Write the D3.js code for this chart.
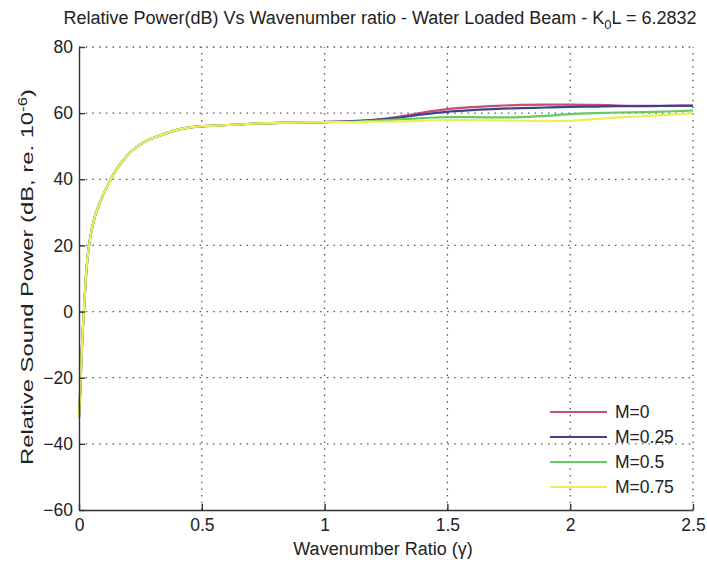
<!DOCTYPE html>
<html>
<head>
<meta charset="utf-8">
<script src="https://cdn.jsdelivr.net/npm/d3@7"></script>
<style>
  body { margin: 0; background: #fff; }
  svg { display: block; font-family: "Liberation Sans", Arial, sans-serif; }
  .grid line { stroke: #555; stroke-width: 1.3; stroke-dasharray: 1.5,5.2; }
  .axis path, .axis line { stroke: #333; stroke-width: 1.4; }
  .axis text { font-size: 17.5px; fill: #222; }
</style>
</head>
<body>
<svg id="chart" width="707" height="562"></svg>
<script>
// shared part of every curve (all Mach numbers agree below ratio 1)
const gammaLow = [0, 0.004, 0.008, 0.013, 0.02, 0.026, 0.033, 0.045, 0.06, 0.08, 0.098, 0.126, 0.16, 0.2, 0.26, 0.34, 0.42, 0.49, 0.56, 0.7, 0.85, 1.0];
const powerLow = [-32, -26, -18, -9, 0, 8, 15, 22, 27.5, 32, 35.2, 39.5, 43.8, 47.5, 51, 53.5, 55.3, 56, 56.2, 56.8, 57.1, 57.3];

// part above ratio 1, one list per Mach number
const gammaHigh = [1.1, 1.2, 1.3, 1.4, 1.5, 1.6, 1.7, 1.8, 1.9, 2.0, 2.1, 2.2, 2.3, 2.4, 2.5];
const powerM0   = [57.6, 58.0, 58.9, 60.2, 61.2, 61.8, 62.2, 62.5, 62.6, 62.6, 62.5, 62.3, 62.2, 62.2, 62.2];
const powerM025 = [57.5, 57.9, 58.6, 59.6, 60.4, 60.9, 61.3, 61.5, 61.7, 61.9, 62.0, 62.1, 62.1, 62.2, 62.3];
const powerM05  = [57.4, 57.7, 58.1, 58.5, 58.8, 58.8, 58.7, 58.8, 59.2, 59.7, 60.0, 60.2, 60.3, 60.5, 60.8];
const powerM075 = [57.3, 57.4, 57.5, 57.7, 57.9, 57.9, 57.8, 57.7, 57.6, 57.7, 58.2, 58.7, 59.1, 59.5, 60.0];

const seriesNames = ["M=0", "M=0.25", "M=0.5", "M=0.75"];
const seriesColors = ["#c4506e", "#404090", "#62cc62", "#eeee58"];

const xTicks = [0, 0.5, 1, 1.5, 2, 2.5];
const yTicks = [-60, -40, -20, 0, 20, 40, 60, 80];

let svg = d3.select("#chart");
let plotLeft = 79, plotRight = 693, plotTop = 47, plotBottom = 510;

let x = d3.scaleLinear().domain([0, 2.5]).range([plotLeft, plotRight]);
let y = d3.scaleLinear().domain([-60, 80]).range([plotBottom, plotTop]);

// grid
let grid = svg.append("g").attr("class", "grid");
grid.selectAll("line.v").data(xTicks.slice(1)).enter().append("line")
    .attr("x1", d => x(d)).attr("x2", d => x(d))
    .attr("y1", plotBottom).attr("y2", plotTop);
grid.selectAll("line.h").data(yTicks.slice(1)).enter().append("line")
    .attr("x1", plotLeft).attr("x2", plotRight)
    .attr("y1", d => y(d)).attr("y2", d => y(d));

// curves
let allSeries = [powerM0, powerM025, powerM05, powerM075].map(function(high, i) {
    let pts = gammaLow.map((g, j) => [g, powerLow[j]])
        .concat(gammaHigh.map((g, j) => [g, high[j]]));
    return {name: seriesNames[i], color: seriesColors[i], pts: pts};
});

let line = d3.line().x(d => x(d[0])).y(d => y(d[1])).curve(d3.curveMonotoneX);

svg.append("g").selectAll("path").data(allSeries).enter().append("path")
    .attr("d", d => line(d.pts))
    .attr("fill", "none")
    .attr("stroke", d => d.color)
    .attr("stroke-width", 2.2);

// axes
svg.append("g").attr("class", "axis")
    .attr("transform", `translate(0,${plotBottom})`)
    .call(d3.axisBottom(x).tickValues(xTicks).tickFormat(d3.format("")).tickSizeInner(-6).tickSizeOuter(0).tickPadding(9));
svg.append("g").attr("class", "axis")
    .attr("transform", `translate(${plotLeft},0)`)
    .call(d3.axisLeft(y).tickValues(yTicks).tickSizeInner(-6).tickSizeOuter(0).tickPadding(6));

// legend
let legend = svg.append("g").selectAll("g").data(allSeries).enter().append("g")
    .attr("transform", (d, i) => `translate(550,${412 + i * 25})`);
legend.append("line").attr("x1", 0).attr("x2", 57)
    .attr("stroke", d => d.color).attr("stroke-width", 2);
legend.append("text").attr("x", 65).attr("dy", "0.35em")
    .style("font-size", "17.5px").attr("fill", "#222")
    .text(d => d.name);

// titles
let title = svg.append("text").attr("x", 380).attr("y", 24)
    .attr("text-anchor", "middle").style("font-size", "18px").attr("fill", "#222");
title.append("tspan").text("Relative Power(dB) Vs Wavenumber ratio - Water Loaded Beam - K");
title.append("tspan").attr("dy", 5).style("font-size", "13px").text("0");
title.append("tspan").attr("dy", -5).text("L = 6.2832");

svg.append("text").attr("x", 383).attr("y", 555)
    .attr("text-anchor", "middle").style("font-size", "18px").attr("fill", "#222")
    .text("Wavenumber Ratio (γ)");

// the picture's y label is drawn stretched along its length
let ylab = svg.append("text")
    .attr("transform", "translate(33,277) scale(1,1.4) rotate(-90)")
    .attr("text-anchor", "middle").style("font-size", "17px").attr("fill", "#222");
ylab.append("tspan").text("Relative Sound Power (dB, re. 10");
ylab.append("tspan").attr("dy", -6).style("font-size", "12px").text("-6");
ylab.append("tspan").attr("dy", 6).text(")");
</script>
</body>
</html>
